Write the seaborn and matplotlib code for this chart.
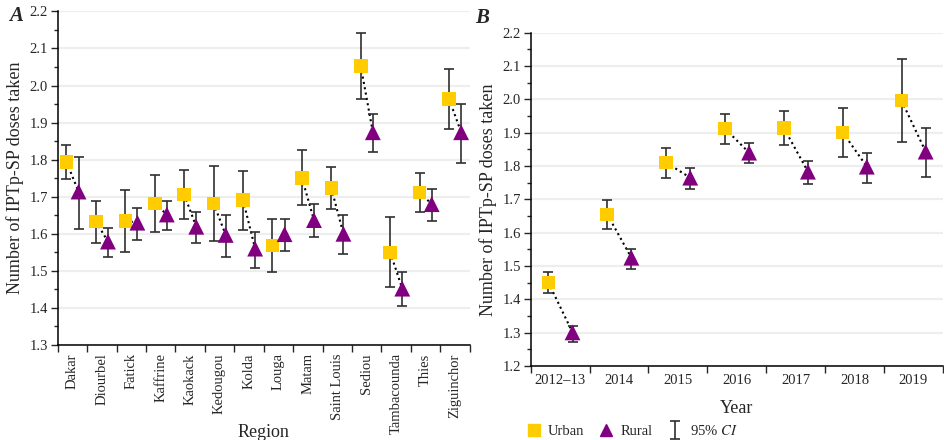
import numpy as np
import pandas as pd
import matplotlib
matplotlib.use("Agg")
import matplotlib.pyplot as plt
from matplotlib.lines import Line2D
from matplotlib.path import Path
from matplotlib.ticker import MultipleLocator, FormatStrFormatter
import seaborn as sns

# ── DATA ──────────────────────────────────────────────────────────
REGIONS = ["Dakar", "Diourbel", "Fatick", "Kaffrine", "Kaokack", "Kedougou", "Kolda",
           "Louga", "Matam", "Saint Louis", "Sediou", "Tambacounda", "Thies", "Ziguinchor"]
REG_URBAN = [1.794, 1.633, 1.635, 1.682, 1.706, 1.682, 1.691, 1.568, 1.751, 1.723, 2.053, 1.550, 1.712, 1.964]
REG_URBAN_LO = [1.748, 1.574, 1.552, 1.605, 1.640, 1.581, 1.611, 1.496, 1.678, 1.666, 1.963, 1.456, 1.660, 1.884]
REG_URBAN_HI = [1.839, 1.688, 1.717, 1.759, 1.772, 1.783, 1.770, 1.641, 1.825, 1.780, 2.142, 1.644, 1.763, 2.046]
REG_RURAL = [1.714, 1.579, 1.630, 1.652, 1.619, 1.597, 1.560, 1.599, 1.637, 1.600, 1.874, 1.452, 1.680, 1.874]
REG_RURAL_LO = [1.614, 1.537, 1.584, 1.610, 1.576, 1.538, 1.508, 1.553, 1.590, 1.545, 1.820, 1.404, 1.635, 1.792]
REG_RURAL_HI = [1.808, 1.616, 1.669, 1.688, 1.658, 1.652, 1.606, 1.640, 1.680, 1.651, 1.922, 1.497, 1.722, 1.949]

YEARS = ["2012\u201313", "2014", "2015", "2016", "2017", "2018", "2019"]
YR_URBAN = [1.451, 1.655, 1.810, 1.912, 1.914, 1.901, 1.996]
YR_URBAN_LO = [1.419, 1.610, 1.765, 1.865, 1.864, 1.827, 1.871]
YR_URBAN_HI = [1.482, 1.699, 1.853, 1.957, 1.964, 1.975, 2.120]
YR_RURAL = [1.301, 1.525, 1.765, 1.840, 1.783, 1.798, 1.843]
YR_RURAL_LO = [1.273, 1.491, 1.731, 1.808, 1.746, 1.748, 1.767]
YR_RURAL_HI = [1.319, 1.551, 1.793, 1.868, 1.815, 1.840, 1.914]

GOLD = "#FFCC00"
PURPLE = "#800080"
ECOL = "#303030"

sns.set_theme(style="ticks")
plt.rcParams["font.family"] = ["Liberation Serif", "DejaVu Serif"]
plt.rcParams["mathtext.fontset"] = "stix"


def long_df(cats, u, ulo, uhi, r, rlo, rhi):
    n = len(cats)
    idx = np.arange(n)
    return pd.DataFrame({
        "x": np.concatenate([idx - 0.2, idx + 0.21]),
        "y": np.concatenate([u, r]),
        "lo": np.concatenate([ulo, rlo]),
        "hi": np.concatenate([uhi, rhi]),
        "Area": ["Urban"] * n + ["Rural"] * n,
    })


def draw_panel(ax, cats, df, ylo, xlabel, rot, label_y):
    n = len(cats)
    urb = df[df["Area"] == "Urban"].reset_index(drop=True)
    rur = df[df["Area"] == "Rural"].reset_index(drop=True)
    ax.grid(axis="y", color="#eeeeee", lw=1.6, zorder=0)
    # dotted connectors urban -> rural
    for i in range(n):
        ax.plot([urb.x[i], rur.x[i]], [urb.y[i], rur.y[i]], ls=(0, (1, 1.6)),
                color="black", lw=1.5, zorder=2)
    for sub in (urb, rur):
        ax.errorbar(sub.x, sub.y, yerr=[sub.y - sub.lo, sub.hi - sub.y], fmt="none",
                    ecolor=ECOL, elinewidth=1.2, capsize=3.5, capthick=1.2, zorder=3)
    sns.scatterplot(data=df, x="x", y="y", hue="Area", style="Area",
                    palette={"Urban": GOLD, "Rural": PURPLE},
                    markers={"Urban": "s", "Rural": "^"},
                    size="Area", sizes={"Urban": 95, "Rural": 130},
                    edgecolor="none", legend=False, ax=ax, zorder=4)
    ax.set_xlim(-0.5, n - 0.5)
    ax.set_ylim(ylo, 2.2)
    ax.yaxis.set_major_locator(MultipleLocator(0.1))
    ax.yaxis.set_minor_locator(MultipleLocator(0.05))
    ax.yaxis.set_major_formatter(FormatStrFormatter("%.1f"))
    ax.set_xticks(np.arange(n + 1) - 0.5)
    ax.set_xticklabels([])
    ax.set_xticks(np.arange(n), minor=True)
    ax.set_xticklabels(cats, minor=True, rotation=rot, fontsize=10.5)
    ax.tick_params(axis="x", which="major", length=5, width=1, direction="out")
    ax.tick_params(axis="x", which="minor", length=0, pad=6)
    ax.tick_params(axis="y", which="major", length=5, width=1, labelsize=10.5, pad=2)
    ax.tick_params(axis="y", which="minor", length=3, width=1)
    for s in ("left", "bottom"):
        ax.spines[s].set_color("black")
        ax.spines[s].set_linewidth(1.1)
    sns.despine(ax=ax)
    ax.set_xlabel(xlabel, fontsize=13, va="center")
    ax.xaxis.set_label_coords(0.5, label_y)
    ax.set_ylabel("Number of IPTp-SP doses taken", fontsize=13, labelpad=4)


fig = plt.figure(figsize=(9.45, 4.4), dpi=100)
axA = fig.add_axes([0.061, 0.216, 0.436, 0.758])
axB = fig.add_axes([0.5616, 0.168, 0.436, 0.758])

dfA = long_df(REGIONS, REG_URBAN, REG_URBAN_LO, REG_URBAN_HI, REG_RURAL, REG_RURAL_LO, REG_RURAL_HI)
dfB = long_df(YEARS, YR_URBAN, YR_URBAN_LO, YR_URBAN_HI, YR_RURAL, YR_RURAL_LO, YR_RURAL_HI)
draw_panel(axA, REGIONS, dfA, 1.3, "Region", 90, -0.262)
draw_panel(axB, YEARS, dfB, 1.2, "Year", 0, -0.126)

fig.text(0.010, 0.952, "A", fontsize=15, fontweight="bold", fontstyle="italic")
fig.text(0.503, 0.948, "B", fontsize=15, fontweight="bold", fontstyle="italic")

# legend
ibeam = Path([(-0.5, -1), (0.5, -1), (0, -1), (0, 1), (-0.5, 1), (0.5, 1)],
             [Path.MOVETO, Path.LINETO, Path.MOVETO, Path.LINETO, Path.MOVETO, Path.LINETO])
h_u = Line2D([], [], marker="s", color=GOLD, ls="none", markersize=8)
h_r = Line2D([], [], marker="^", color=PURPLE, ls="none", markersize=9)
h_ci = Line2D([], [], marker=ibeam, color=ECOL, markerfacecolor="none", ls="none",
              markersize=13, markeredgewidth=1.2)
fig.legend([h_u, h_r, h_ci], ["Urban", "Rural", "95% $CI$"], ncol=3, frameon=False,
           loc="center left", bbox_to_anchor=(0.543, 0.021), fontsize=10.5,
           handlelength=1.0, handletextpad=0.5, columnspacing=1.0)

fig.savefig("out.png", dpi=100, facecolor="white")
